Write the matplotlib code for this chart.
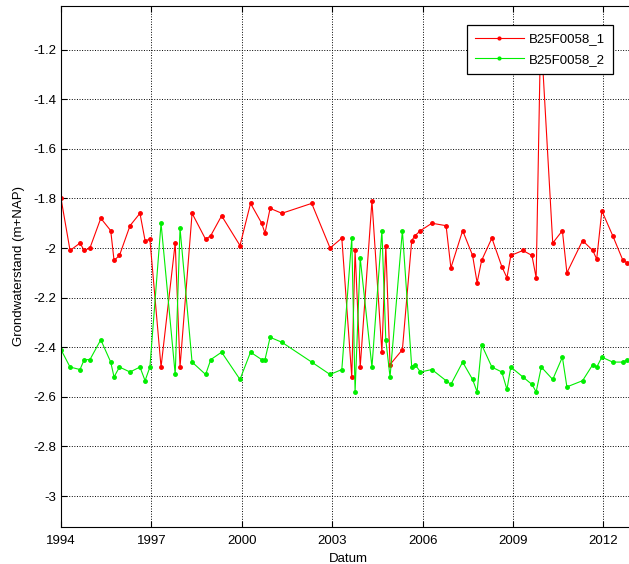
import matplotlib.pyplot as plt

plt.rcParams['font.family'] = ['Liberation Sans', 'DejaVu Sans']

# decimal years and groundwater levels (m+NAP)
x1 = [1994.0, 1994.3, 1994.63, 1994.77, 1994.96, 1995.32, 1995.65, 1995.76, 1995.94,
      1996.29, 1996.62, 1996.79, 1996.95, 1997.32, 1997.79, 1997.95, 1998.35, 1998.8,
      1998.97, 1999.33, 1999.94, 2000.29, 2000.66, 2000.77, 2000.94, 2001.33, 2002.32,
      2002.93, 2003.32, 2003.65, 2003.76, 2003.93, 2004.32, 2004.65, 2004.78, 2004.92,
      2005.33, 2005.64, 2005.75, 2005.93, 2006.31, 2006.78, 2006.94, 2007.33, 2007.66,
      2007.81, 2007.96, 2008.3, 2008.63, 2008.8, 2008.93, 2009.33, 2009.63, 2009.77,
      2009.92, 2010.32, 2010.64, 2010.79, 2011.31, 2011.65, 2011.78, 2011.95, 2012.31,
      2012.65, 2012.8]
y1 = [-1.80, -2.01, -1.98, -2.01, -2.00, -1.88, -1.93, -2.05, -2.03,
      -1.91, -1.86, -1.97, -1.965, -2.48, -1.98, -2.48, -1.86, -1.965,
      -1.95, -1.87, -1.99, -1.82, -1.90, -1.94, -1.84, -1.86, -1.82,
      -2.00, -1.96, -2.52, -2.01, -2.48, -1.81, -2.42, -1.99, -2.47,
      -2.41, -1.97, -1.95, -1.93, -1.90, -1.91, -2.08, -1.93, -2.03,
      -2.14, -2.05, -1.96, -2.075, -2.12, -2.03, -2.01, -2.03, -2.12,
      -1.12, -1.98, -1.93, -2.10, -1.97, -2.01, -2.045, -1.85, -1.95,
      -2.05, -2.06]

x2 = [1994.0, 1994.3, 1994.63, 1994.77, 1994.96, 1995.32, 1995.65, 1995.76, 1995.94,
      1996.29, 1996.62, 1996.79, 1996.95, 1997.32, 1997.79, 1997.95, 1998.35, 1998.8,
      1998.97, 1999.33, 1999.94, 2000.29, 2000.66, 2000.77, 2000.94, 2001.33, 2002.32,
      2002.93, 2003.32, 2003.65, 2003.76, 2003.93, 2004.32, 2004.65, 2004.78, 2004.92,
      2005.33, 2005.64, 2005.75, 2005.93, 2006.31, 2006.78, 2006.94, 2007.33, 2007.66,
      2007.81, 2007.96, 2008.3, 2008.63, 2008.8, 2008.93, 2009.33, 2009.63, 2009.77,
      2009.94, 2010.32, 2010.64, 2010.79, 2011.31, 2011.65, 2011.78, 2011.95, 2012.31,
      2012.65, 2012.8]
y2 = [-2.41, -2.48, -2.49, -2.45, -2.45, -2.37, -2.46, -2.52, -2.48,
      -2.50, -2.48, -2.535, -2.48, -1.90, -2.51, -1.92, -2.46, -2.51,
      -2.45, -2.42, -2.53, -2.42, -2.45, -2.45, -2.36, -2.38, -2.46,
      -2.51, -2.49, -1.96, -2.58, -2.04, -2.48, -1.93, -2.37, -2.52,
      -1.93, -2.48, -2.47, -2.50, -2.49, -2.535, -2.55, -2.46, -2.53,
      -2.58, -2.39, -2.48, -2.50, -2.57, -2.48, -2.52, -2.55, -2.58,
      -2.48, -2.53, -2.44, -2.56, -2.535, -2.47, -2.48, -2.44, -2.46,
      -2.46, -2.45]

xticks = [1994, 1997, 2000, 2003, 2006, 2009, 2012]
yticks = [-3, -2.8, -2.6, -2.4, -2.2, -2, -1.8, -1.6, -1.4, -1.2]

fig = plt.figure(figsize=(6.29, 5.64), dpi=100)
ax = fig.add_axes([0.097, 0.0656, 0.913, 0.9238])

ax.plot(x1, y1, '.-', color='#ff0000', lw=0.8, ms=5, label='B25F0058_1')
ax.plot(x2, y2, '.-', color='#00ee00', lw=0.8, ms=5, label='B25F0058_2')

ax.set_xlim(1994, 2013.06)
ax.set_ylim(-3.125, -1.024)
ax.set_xticks(xticks)
ax.set_xticklabels([str(t) for t in xticks])
ax.set_yticks(yticks)
ax.set_yticklabels(['%g' % t for t in yticks])
ax.tick_params(direction='in', length=4, labelsize=9.5, top=True, right=True)
ax.tick_params(axis='x', pad=6)
ax.grid(True, linestyle=':', color='black', linewidth=0.7)
for s in ax.spines.values():
    s.set_linewidth(0.8)

ax.set_xlabel('Datum', fontsize=9.5, labelpad=4)
ax.set_ylabel('Grondwaterstand (m+NAP)', fontsize=9.5, labelpad=6)

leg = ax.legend(loc='upper right', bbox_to_anchor=(0.9746, 0.955),
                bbox_transform=fig.transFigure, borderaxespad=0,
                fancybox=False, framealpha=1, edgecolor='black',
                fontsize=9.5, handlelength=3.7, handletextpad=0.4,
                borderpad=0.6, labelspacing=0.6, markerscale=0.8)
leg.get_frame().set_linewidth(0.9)

fig.savefig('out.png', dpi=100)
